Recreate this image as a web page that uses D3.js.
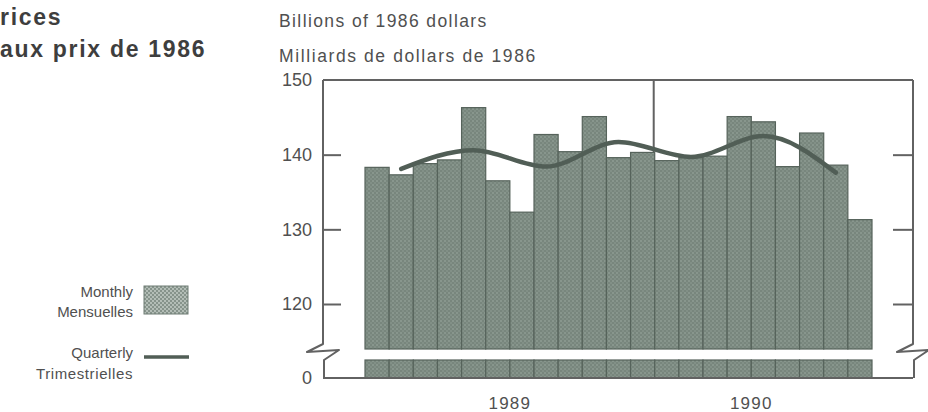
<!DOCTYPE html>
<html><head><meta charset="utf-8">
<script src="https://cdn.jsdelivr.net/npm/d3@7/dist/d3.min.js"></script>
<style>
body{margin:0;background:#fff;}
svg{display:block;font-family:"Liberation Sans",Arial,Helvetica,sans-serif;}
</style></head>
<body><svg id="c" width="928" height="412"></svg>
<script>
// ---- data ----
const months = ["1989-01","1989-02","1989-03","1989-04","1989-05","1989-06","1989-07","1989-08","1989-09","1989-10","1989-11","1989-12",
                "1990-01","1990-02","1990-03","1990-04","1990-05","1990-06","1990-07","1990-08","1990-09"];
const monthly = [138.3,137.3,138.8,139.3,146.3,136.5,132.3,142.7,140.4,145.1,139.6,140.3,
                 139.2,139.6,139.8,145.1,144.4,138.4,142.9,138.6,131.3];
const quarters = ["1989-Q1","1989-Q2","1989-Q3","1989-Q4","1990-Q1","1990-Q2","1990-Q3"];
const quarterly = [138.1,140.6,138.4,141.7,139.7,142.5,137.6];
const yTicks = [120,130,140,150];
const years = ["1989","1990"];

// ---- layout ----
const svg = d3.select("#c");
const X0 = 323, X1 = 913, YTOP = 80, YBASE = 378;
const breakTop = 349, breakBot = 360;
const ink = "#505050", frame = "#626262";

const x = d3.scaleBand().domain(months).range([365, 872]).padding(0);
const y = d3.scaleLinear().domain([120,150]).range([304, YTOP]);

// patterns
const defs = svg.append("defs");
const pat = defs.append("pattern").attr("id","dots").attr("patternUnits","userSpaceOnUse")
  .attr("width",4).attr("height",4);
pat.append("rect").attr("width",4).attr("height",4).attr("fill","#78867d");
pat.append("circle").attr("cx",1).attr("cy",1).attr("r",0.8).attr("fill","#9dab92".replace("92","a2"));
pat.append("circle").attr("cx",3).attr("cy",3).attr("r",0.8).attr("fill","#8f9d94");

const pat2 = defs.append("pattern").attr("id","dots2").attr("patternUnits","userSpaceOnUse")
  .attr("width",4).attr("height",4);
pat2.append("rect").attr("width",4).attr("height",4).attr("fill","#86938b");
pat2.append("circle").attr("cx",1).attr("cy",1).attr("r",0.9).attr("fill","#c9d2cc");
pat2.append("circle").attr("cx",3).attr("cy",3).attr("r",0.9).attr("fill","#c9d2cc");

// year divider (behind bars)
svg.append("line").attr("x1", x(months[12])-1).attr("x2", x(months[12])-1)
  .attr("y1", YTOP).attr("y2", breakTop).attr("stroke", frame).attr("stroke-width",2);

// bars (two segments because of axis break)
const bars = svg.append("g");
months.forEach((m,i)=>{
  bars.append("rect").attr("x",x(m)).attr("width",x.bandwidth())
    .attr("y",y(monthly[i])).attr("height",breakTop - y(monthly[i]))
    .attr("fill","url(#dots)").attr("stroke","#56635b").attr("stroke-width",1.2);
  bars.append("rect").attr("x",x(m)).attr("width",x.bandwidth())
    .attr("y",breakBot).attr("height",YBASE - breakBot)
    .attr("fill","url(#dots)").attr("stroke","#56635b").attr("stroke-width",1.2);
});

// quarterly line
const qline = d3.line()
  .x((d,i)=> x(months[i*3+1]) + x.bandwidth()/2)
  .y(d=> y(d))
  .curve(d3.curveMonotoneX);
svg.append("path").attr("d", qline(quarterly)).attr("fill","none")
  .attr("stroke","#515e56").attr("stroke-width",4.5).attr("stroke-linecap","round");

// frame
svg.append("line").attr("x1",X0).attr("x2",X1).attr("y1",YTOP).attr("y2",YTOP).attr("stroke",frame).attr("stroke-width",2);
svg.append("line").attr("x1",X0).attr("x2",X1).attr("y1",YBASE).attr("y2",YBASE).attr("stroke",frame).attr("stroke-width",2);
const brk = (ax)=> `M${ax},${YTOP} V${breakTop-5} L${ax-16},${breakTop+3} L${ax+16},${breakTop+1} L${ax+1},${breakBot} V${YBASE}`;
svg.append("path").attr("d",brk(X0)).attr("fill","none").attr("stroke",frame).attr("stroke-width",2).attr("stroke-linejoin","round");
svg.append("path").attr("d",brk(X1)).attr("fill","none").attr("stroke",frame).attr("stroke-width",2).attr("stroke-linejoin","round");

// axes
const gl = svg.append("g").attr("transform",`translate(${X0},0)`)
  .call(d3.axisLeft(y).tickValues(yTicks).tickSize(-18).tickPadding(11).tickFormat(d3.format("d")));
gl.select(".domain").remove();
gl.selectAll("line").attr("stroke",frame).attr("stroke-width",2);
gl.selectAll("text").attr("fill",ink).attr("font-size",18).attr("font-family","Liberation Sans, Arial, sans-serif");
gl.selectAll(".tick").filter(d=>d===150).select("line").remove();

const gr = svg.append("g").attr("transform",`translate(${X1},0)`)
  .call(d3.axisRight(y).tickValues(yTicks.filter(d=>d<150)).tickSize(-20).tickFormat(""));
gr.select(".domain").remove();
gr.selectAll("line").attr("stroke",frame).attr("stroke-width",2);

svg.append("text").attr("x",X0-11).attr("y",YBASE).attr("dy","0.35em").attr("text-anchor","end")
  .attr("fill",ink).attr("font-size",18).text("0");

// year labels: at the left edge of each year's middle month
years.forEach(yr=>{
  const ms = months.filter(m=>m.startsWith(yr));
  const cx = x(ms[Math.floor(ms.length/2)]);
  svg.append("text").attr("x",cx).attr("y",409).attr("text-anchor","middle")
    .attr("fill",ink).attr("font-size",17).attr("letter-spacing",1.2).text(yr);
});

// titles
svg.append("text").attr("x",0).attr("y",25).attr("fill","#3e3e3e").attr("font-weight","bold").attr("font-size",23).attr("letter-spacing",1.7).text("rices");
svg.append("text").attr("x",0).attr("y",57).attr("fill","#3e3e3e").attr("font-weight","bold").attr("font-size",23).attr("letter-spacing",1.7).text("aux prix de 1986");
svg.append("text").attr("x",279).attr("y",27).attr("fill",ink).attr("font-size",17.5).attr("letter-spacing",1.4).text("Billions of 1986 dollars");
svg.append("text").attr("x",279).attr("y",62).attr("fill",ink).attr("font-size",17.5).attr("letter-spacing",1.6).text("Milliards de dollars de 1986");

// legend
const lg = svg.append("g");
lg.append("text").attr("x",133).attr("y",297).attr("text-anchor","end").attr("fill",ink).attr("font-size",15).text("Monthly");
lg.append("text").attr("x",133).attr("y",317).attr("text-anchor","end").attr("fill",ink).attr("font-size",15).text("Mensuelles");
lg.append("rect").attr("x",144).attr("y",286).attr("width",44).attr("height",28).attr("fill","url(#dots2)").attr("stroke","#6f7c74");
lg.append("text").attr("x",133).attr("y",358).attr("text-anchor","end").attr("fill",ink).attr("font-size",15).text("Quarterly");
lg.append("text").attr("x",133).attr("y",379).attr("text-anchor","end").attr("fill",ink).attr("font-size",15).attr("letter-spacing",0.6).text("Trimestrielles");
lg.append("line").attr("x1",144).attr("x2",189).attr("y1",357).attr("y2",357).attr("stroke","#515e56").attr("stroke-width",3.5);
</script></body></html>
